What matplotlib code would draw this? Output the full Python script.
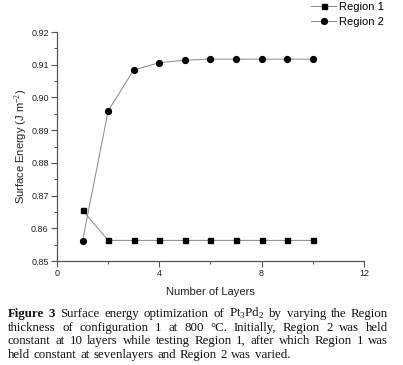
import math
import matplotlib
matplotlib.use('Agg')
import matplotlib.pyplot as plt
from matplotlib.ticker import MultipleLocator
from matplotlib.font_manager import FontProperties

layers = [1, 2, 3, 4, 5, 6, 7, 8, 9, 10]
region1 = [0.8655, 0.8563, 0.8563, 0.8563, 0.8563, 0.8563, 0.8563, 0.8563, 0.8563, 0.8563]
region2 = [0.8562, 0.8959, 0.9084, 0.9106, 0.9114, 0.9117, 0.9117, 0.9117, 0.9117, 0.9117]

caption_lines = [
    [("Figure", True), ("3", True), ("Surface", False), ("energy", False), ("optimization", False),
     ("of", False), ("Pt$_3$Pd$_2$", False), ("by", False), ("varying", False), ("the", False), ("Region", False)],
    [(w, False) for w in "thickness of configuration 1 at 800 \u00b0C. Initially, Region 2 was held".split()],
    [(w, False) for w in "constant at 10 layers while testing Region 1, after which Region 1 was".split()],
    [(w, False) for w in "held constant at sevenlayers and Region 2 was varied.".split()],
]

plt.rcParams['font.family'] = ['Liberation Sans', 'DejaVu Sans']
plt.rcParams['mathtext.fontset'] = 'custom'
plt.rcParams['mathtext.rm'] = 'Liberation Serif'

fig = plt.figure(figsize=(4.03, 3.65), dpi=100)
ax = fig.add_axes([0.1414, 0.2849, 0.7616, 0.6274])

ax.plot(layers, region1, color='#888888', lw=0.7, marker='s', ms=3.6,
        mfc='black', mec='black', label='Region 1')
ax.plot(layers, region2, color='#888888', lw=0.7, marker='o', ms=4.2,
        mfc='black', mec='black', label='Region 2')

ax.set_xlim(0, 12)
ax.set_ylim(0.85, 0.92)
ax.xaxis.set_major_locator(MultipleLocator(4))
ax.xaxis.set_minor_locator(MultipleLocator(2))
ax.yaxis.set_major_locator(MultipleLocator(0.01))
ax.yaxis.set_minor_locator(MultipleLocator(0.005))
ax.yaxis.set_major_formatter(plt.FormatStrFormatter('%.2f'))
ax.spines['top'].set_visible(False)
ax.spines['right'].set_visible(False)
for s in ['left', 'bottom']:
    ax.spines[s].set_color('#555555')
    ax.spines[s].set_linewidth(0.9)
ax.tick_params(which='major', direction='out', length=4, width=0.8, colors='#555555',
               labelsize=6.5, labelcolor='#222222', pad=2)
ax.tick_params(which='minor', direction='out', length=2, width=0.7, colors='#555555')

ax.set_xlabel('Number of Layers', fontsize=8, color='#222222', labelpad=6)
ax.set_ylabel('Surface Energy (J m$^{-2}$)', fontsize=8, color='#222222', labelpad=1)

ax.legend(loc='upper right', bbox_to_anchor=(1.08, 1.15), frameon=False, fontsize=8,
          handlelength=2.2, handletextpad=0.3, labelspacing=0.45, borderaxespad=0)

# justified caption, one text per word; y nudged so every word's bitmap
# lands on the same pixel baseline
renderer = fig.canvas.get_renderer()
fs = 9.3
x0, x1 = 8, 388
baselines = [317, 331, 344, 358]
for i, line in enumerate(caption_lines):
    texts, widths = [], []
    for word, b in line:
        prop = FontProperties(family='Liberation Serif', weight='bold' if b else 'normal', size=fs)
        y_fl = baselines[i]
        if '$' not in word:
            _, h, d = renderer.get_text_width_height_descent(word, prop, ismath=False)
            y_fl = baselines[i] + int(h) - math.floor(h - d) - d
        t = fig.text(0, (365 - y_fl) / 365, word, fontproperties=prop,
                     color='#111111', va='baseline')
        texts.append(t)
        widths.append(t.get_window_extent(renderer).width)
    if i < len(caption_lines) - 1:
        gap = (x1 - x0 - sum(widths)) / (len(texts) - 1)
    else:
        gap = 3.8
    x = x0
    for t, w in zip(texts, widths):
        t.set_x(x / 403)
        x += w + gap

fig.savefig('out.png', dpi=100)
